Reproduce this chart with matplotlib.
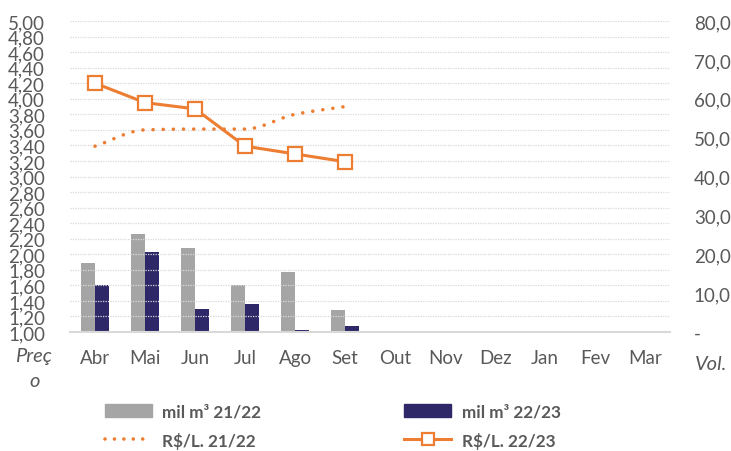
import numpy as np
import matplotlib.pyplot as plt
from matplotlib.lines import Line2D
from matplotlib.patches import Patch

# Data
months = ["Abr", "Mai", "Jun", "Jul", "Ago", "Set", "Out", "Nov", "Dez", "Jan", "Fev", "Mar"]
vol_2122 = [17.7, 25.2, 21.6, 12.1, 15.4, 5.7]
vol_2223 = [12.1, 20.6, 5.9, 7.2, 0.5, 1.5]
price_2122 = [3.39, 3.60, 3.61, 3.61, 3.80, 3.90]
price_2223 = [4.20, 3.95, 3.87, 3.39, 3.29, 3.19]

orange = "#ED7D31"
gray = "#A5A5A5"
navy = "#2E2868"
txt = "#595959"

plt.rcParams["font.family"] = ["Lato", "DejaVu Sans"]


def smooth(y, n=20):
    # monotone cubic (Fritsch-Carlson) so the smoothed line does not overshoot
    y = np.asarray(y, float)
    x = np.arange(len(y), dtype=float)
    d = np.diff(y)
    m = np.zeros_like(y)
    m[0], m[-1] = d[0], d[-1]
    for i in range(1, len(y) - 1):
        if d[i - 1] * d[i] > 0:
            m[i] = 2 / (1 / d[i - 1] + 1 / d[i])
    xs, ys = [], []
    for i in range(len(y) - 1):
        t = np.linspace(0, 1, n, endpoint=False)
        h00 = 2 * t**3 - 3 * t**2 + 1
        h10 = t**3 - 2 * t**2 + t
        h01 = -2 * t**3 + 3 * t**2
        h11 = t**3 - t**2
        xs.extend(x[i] + t)
        ys.extend(h00 * y[i] + h10 * m[i] + h01 * y[i + 1] + h11 * m[i + 1])
    xs.append(x[-1])
    ys.append(y[-1])
    return np.array(xs), np.array(ys)


fig = plt.figure(figsize=(7.31, 4.52), dpi=100)
ax = fig.add_axes([0.0958, 0.2633, 0.821, 0.688])
ax2 = ax.twinx()

# price axis (left) with lines, volume axis (right) with bars
ax.set_zorder(ax2.get_zorder() + 1)
ax.patch.set_visible(False)

x = np.arange(len(months))
w = 0.28
n = len(vol_2122)
ax2.bar(x[:n] - w / 2, vol_2122, w, color=gray)
ax2.bar(x[:n] + w / 2, vol_2223, w, color=navy)
ax2.set_ylim(0, 80)
ax2.set_yticks(np.arange(0, 81, 10))
ax2.set_yticklabels(["-"] + [f"{v:.1f}".replace(".", ",") for v in range(10, 81, 10)])

sx, sy = smooth(price_2122)
ax.plot(sx, sy, color=orange, lw=2.6, linestyle=(0, (0.01, 2.8)),
        dash_capstyle="round")
ax.plot(x[:n], price_2223, color=orange, lw=2.2, marker="s", markersize=9.5,
        markerfacecolor="white", markeredgecolor=orange, markeredgewidth=1.6)

ax.set_ylim(1.0, 5.0)
ax.set_xlim(-0.5, 11.5)
yt = np.round(np.arange(1.0, 5.01, 0.2), 2)
ax.set_yticks(yt)
ax.set_yticklabels([f"{v:.2f}".replace(".", ",") for v in yt])
ax.set_xticks(x)
ax.set_xticklabels(months)
ax.grid(axis="y", color="#D9D9D9", linestyle=(0, (1, 1)), lw=0.9)
ax.set_axisbelow(True)

for a in (ax, ax2):
    for s in a.spines.values():
        s.set_visible(False)
    a.tick_params(length=0, labelsize=13.5, colors=txt)
ax.spines["bottom"].set_visible(True)
ax.spines["bottom"].set_color("#D9D9D9")
ax.spines["bottom"].set_linewidth(1.5)
ax.tick_params(axis="y", pad=18, labelsize=13.5)
ax.tick_params(axis="x", pad=12)
ax2.tick_params(axis="y", pad=17)

fig.text(0.046, 0.212, "Preç", ha="center", va="center", style="italic",
         color=txt, fontsize=14.5)
fig.text(0.047, 0.156, "o", ha="center", va="center", style="italic",
         color=txt, fontsize=14.5)
fig.text(0.973, 0.193, "Vol.", ha="center", va="center", style="italic",
         color=txt, fontsize=14.5)

handles = [
    Patch(color=gray),
    Line2D([], [], color=orange, lw=2.6, linestyle=(0, (0.01, 2.6)), dash_capstyle="round"),
    Patch(color=navy),
    Line2D([], [], color=orange, lw=2.2, marker="s", markersize=9,
           markerfacecolor="white", markeredgecolor=orange, markeredgewidth=1.6),
]
labels = ["mil m³ 21/22", "R$/L. 21/22", "mil m³ 22/23", "R$/L. 22/23"]
leg = fig.legend(handles, labels, ncol=2, loc="center", bbox_to_anchor=(0.455, 0.055),
                 frameon=False, handlelength=2.75, handleheight=0.8, columnspacing=8.4,
                 labelspacing=0.7, handletextpad=0.6,
                 prop={"weight": "bold", "size": 12.3})
for t in leg.get_texts():
    t.set_color(txt)

fig.savefig("out.png", dpi=100)
